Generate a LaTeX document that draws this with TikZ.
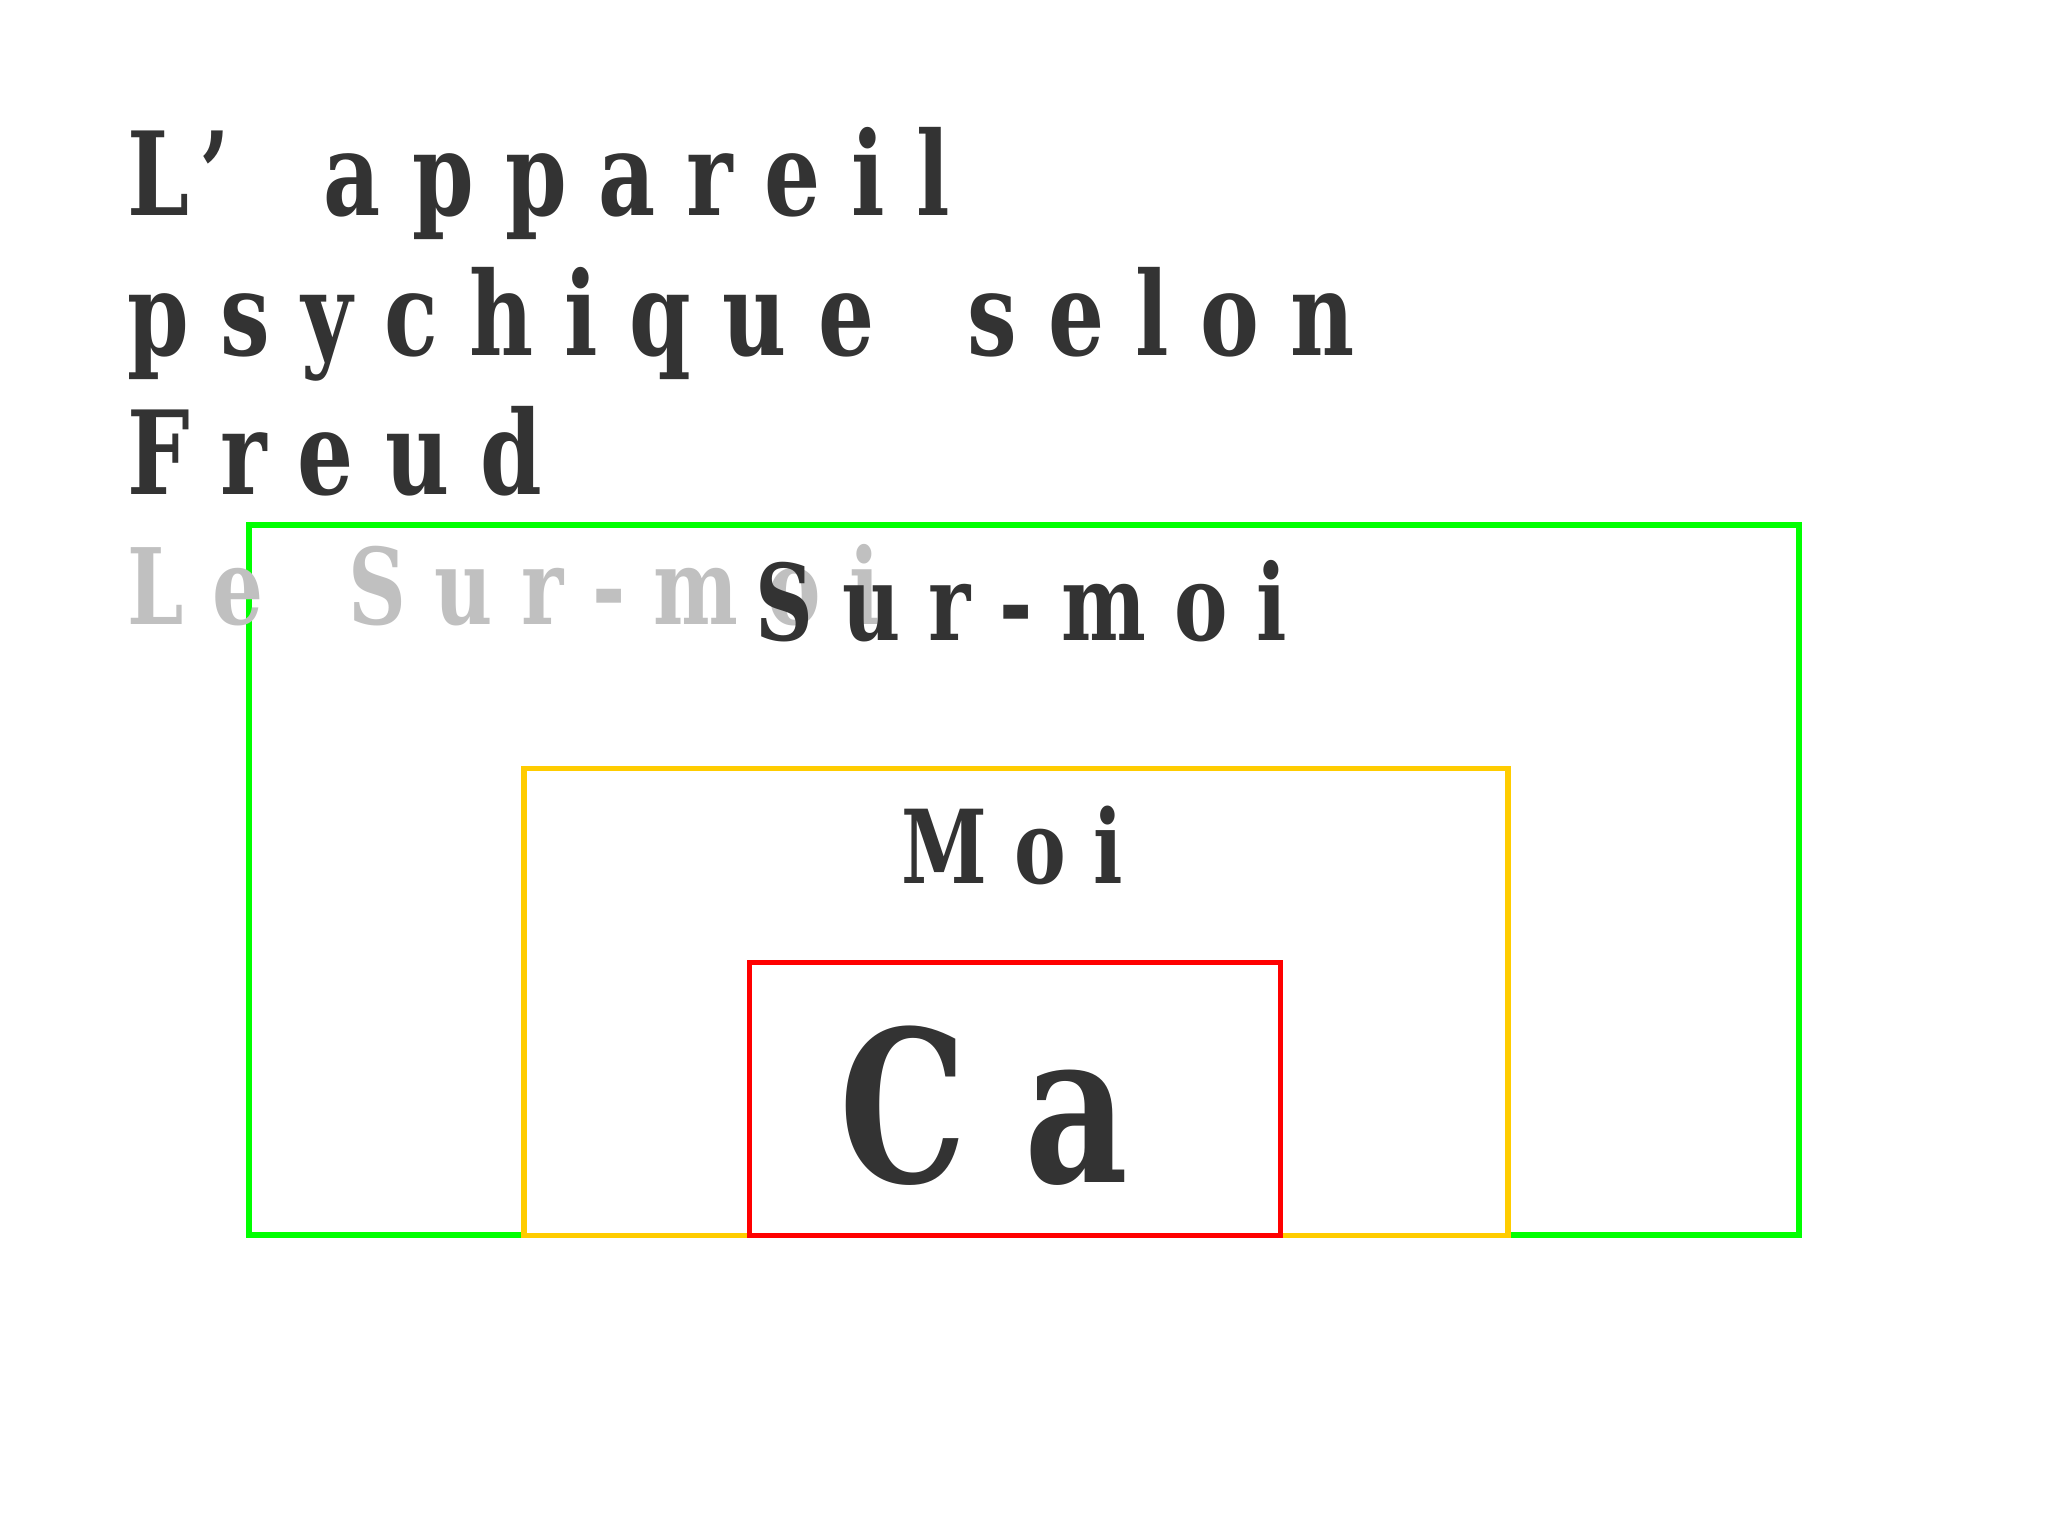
\documentclass[tikz,border=0pt]{standalone}
\usepackage{fontspec}
\setmainfont{DejaVu Serif}[FakeStretch=0.76, LetterSpace=27, WordSpace=1.5]
\usepackage{tikz}
\usetikzlibrary{positioning}

\definecolor{txtdark}{HTML}{333333}
\definecolor{txtgray}{HTML}{C0C0C0}
\definecolor{boxgreen}{HTML}{00FF00}
\definecolor{boxyellow}{HTML}{FFCC00}
\definecolor{boxred}{HTML}{FF0000}

\begin{document}
\begin{tikzpicture}[x=0.01cm, y=-0.01cm,
    layer/.style={rectangle, draw, line width=1.6pt, fill=white, inner sep=0pt},
    title/.style={anchor=base west, inner sep=0pt, text=txtdark, font=\bfseries\fontsize{33}{39}\selectfont},
    label/.style={anchor=base west, inner sep=0pt, text=txtdark, font=\bfseries\fontsize{30}{36}\selectfont}]
	% --- page ---
	\useasboundingbox (0,0) rectangle (2048,1536);

	% --- Title ---
	\node[title] (t1) at (127,215) {L' appareil};
	\node[title] (t2) at (127,355) {psychique selon};
	\node[title] (t3) at (127,494) {Freud};

	% --- Layers ---
	% Sur-moi
	\node[layer, draw=boxgreen, minimum width=15.49cm, minimum height=7.10cm] (surmoi) at (1024,880) {};
	% Moi
	\node[layer, draw=boxyellow, minimum width=9.84cm, minimum height=4.67cm] (moi) at (1016,1002) {};
	% Ca
	\node[layer, draw=boxred, minimum width=5.31cm, minimum height=2.73cm] (ca) at (1015,1099) {};

	% gray heading over the top border
	\node[label, text=txtgray] (t4) at (127,624) {Le Sur-moi};

	% --- Labels ---
	\node[label] (lsurmoi) at (755,640) {Sur-moi};
	\node[label, anchor=base, font=\bfseries\fontsize{29}{35}\selectfont] (lmoi) at (1012,883) {Moi};
	\node[label, anchor=base, font=\bfseries\fontsize{60}{70}\selectfont] (lca) at (984,1182) {Ca};
\end{tikzpicture}
\end{document}
